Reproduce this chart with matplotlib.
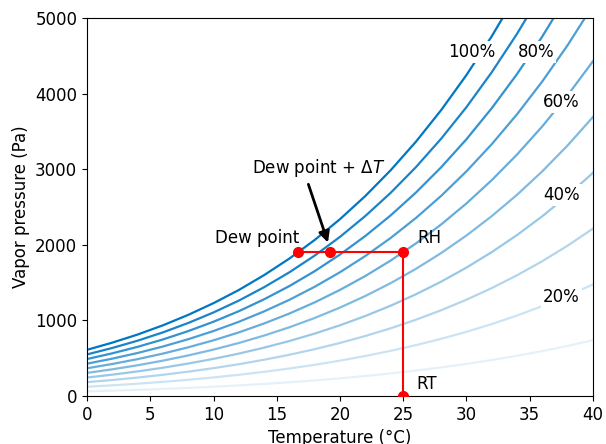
import matplotlib.pyplot as plt
import numpy as np

# saturation vapour pressure (Pa)
temps = [0, 2, 4, 6, 8, 10, 12, 14, 16, 18, 20, 22, 24, 26, 28, 30, 32, 34, 36, 38, 40]
p_sat = [611, 706, 813, 935, 1073, 1228, 1402, 1599, 1818, 2064, 2339, 2645,
         2985, 3363, 3782, 4246, 4759, 5324, 5946, 6630, 7381]
rh_levels = [10, 20, 30, 40, 50, 60, 70, 80, 90, 100]

# labelled curves: text, temperature, pressure
label_txt = ['100%', '80%', '60%', '40%', '20%']
label_t = [30.4, 35.5, 37.5, 37.5, 37.5]
label_p = [4550, 4550, 3890, 2660, 1310]

# dew point construction
pts_t = [16.7, 19.2, 25.0]
pts_p = [1900, 1900, 1900]
rt_t = 25.0

plt.rcParams['font.size'] = 12
fig = plt.figure(figsize=(6.06, 4.44), dpi=100)
ax = fig.add_axes([0.1436, 0.1081, 0.8349, 0.8514])

base = '#0077c4'
for rh in rh_levels:
    ax.plot(temps, np.array(p_sat) * rh / 100, color=base, alpha=rh / 100, lw=1.6)

for txt, t, p in zip(label_txt, label_t, label_p):
    ax.text(t, p, txt, ha='center', va='center',
            bbox=dict(facecolor='white', edgecolor='none', pad=1.5))

ax.plot([pts_t[0], pts_t[-1]], [pts_p[0], pts_p[-1]], color='red', lw=1.5)
ax.plot([rt_t, rt_t], [pts_p[-1], 0], color='red', lw=1.5)
ax.plot(pts_t + [rt_t], pts_p + [0], 'o', color='red', ms=7, zorder=5)

ax.text(16.8, 2090, 'Dew point', ha='right', va='center')
ax.text(26.1, 2090, 'RH', ha='left', va='center')
ax.text(26.0, 160, 'RT', ha='left', va='center')
ax.text(18.3, 3010, 'Dew point + $\\Delta T$', ha='center', va='center')
ax.annotate('', xy=(19.05, 2030), xytext=(17.5, 2800),
            arrowprops=dict(arrowstyle='-|>', color='black', lw=2,
                            mutation_scale=16, shrinkA=0, shrinkB=0))

ax.set_xlim(0, 40)
ax.set_ylim(0, 5000)
ax.set_xticks(range(0, 41, 5))
ax.set_yticks(range(0, 5001, 1000))
ax.set_xlabel('Temperature (°C)')
ax.set_ylabel('Vapor pressure (Pa)')

fig.savefig('out.png', dpi=100)
